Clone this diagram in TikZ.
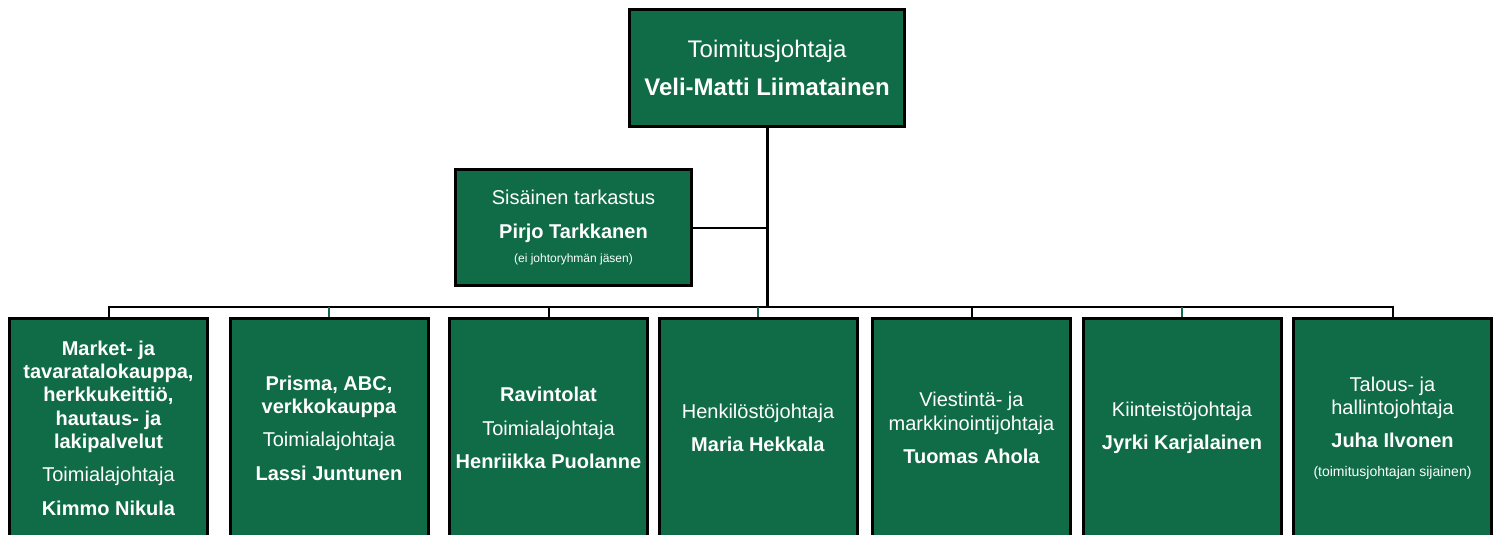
\documentclass[tikz,border=0pt]{standalone}
\usepackage{fontspec}
\setmainfont{Liberation Sans}
\definecolor{sgreen}{RGB}{15,108,70}
\tikzset{
  unit/.style={draw=black, line width=3pt, fill=sgreen, text=white, align=center, inner sep=0pt},
  topunit/.style={unit, minimum width=275pt, minimum height=117pt, font=\fontsize{24}{28}\selectfont},
  staffunit/.style={unit, minimum width=236pt, minimum height=116pt, font=\fontsize{20}{23.3}\selectfont},
  lineunit/.style={unit, minimum width=198pt, minimum height=219pt, font=\fontsize{20}{23.3}\selectfont},
  link/.style={line width=2pt}
}
\newcommand{\note}[2][12]{{\fontsize{#1}{14}\selectfont #2}}
\begin{document}
\begin{tikzpicture}[x=1pt,y=-1pt]
\clip (0,0) rectangle (1496,535);
\fill[white] (0,0) rectangle (1496,535);
\node[topunit] (toimitus) at (767,68) {Toimitusjohtaja\\[10pt]\textbf{Veli-Matti Liimatainen}};
\node[staffunit] (tarkastus) at (573.5,227.5) {Sisäinen tarkastus\\[10pt]\textbf{Pirjo Tarkkanen}\\[1pt]\note{(ei johtoryhmän jäsen)}};
\node[lineunit] (market) at (108.5,428) {\textbf{Market- ja}\\\textbf{tavaratalokauppa,}\\\textbf{herkkukeittiö,}\\\textbf{hautaus- ja}\\\textbf{lakipalvelut}\\[10pt]Toimialajohtaja\\[10pt]\textbf{Kimmo Nikula}};
\node[lineunit] (prisma) at (329,428) {\textbf{Prisma, ABC,}\\\textbf{verkkokauppa}\\[10pt]Toimialajohtaja\\[10pt]\textbf{Lassi Juntunen}};
\node[lineunit] (ravintolat) at (548.5,428) {\textbf{Ravintolat}\\[10pt]Toimialajohtaja\\[10pt]\textbf{Henriikka Puolanne}};
\node[lineunit] (henkilosto) at (758,428) {Henkilöstöjohtaja\\[10pt]\textbf{Maria Hekkala}};
\node[lineunit] (viestinta) at (971.5,428) {Viestintä- ja\\markkinointijohtaja\\[10pt]\textbf{Tuomas Ahola}};
\node[lineunit] (kiinteisto) at (1182,428) {Kiinteistöjohtaja\\[10pt]\textbf{Jyrki Karjalainen}};
\node[lineunit] (talous) at (1392.5,428) {Talous- ja\\hallintojohtaja\\[10pt]\textbf{Juha Ilvonen}\\[5pt]\note[14]{(toimitusjohtajan sijainen)}};
\coordinate (bus) at (767,307);
\draw[line width=3pt] (toimitus.south) -- (bus);
\draw[link] (tarkastus.east) -- (tarkastus.east -| toimitus.south);
\draw[link] (market.north) -- (market.north |- bus) -- (talous.north |- bus) -- (talous.north);
\foreach \n in {ravintolat,viestinta}
  \draw[link] (\n.north) -- (\n.north |- bus);
\foreach \n in {prisma,henkilosto,kiinteisto}
  \draw[link, sgreen] (\n.north) -- (\n.north |- bus);
\end{tikzpicture}
\end{document}
